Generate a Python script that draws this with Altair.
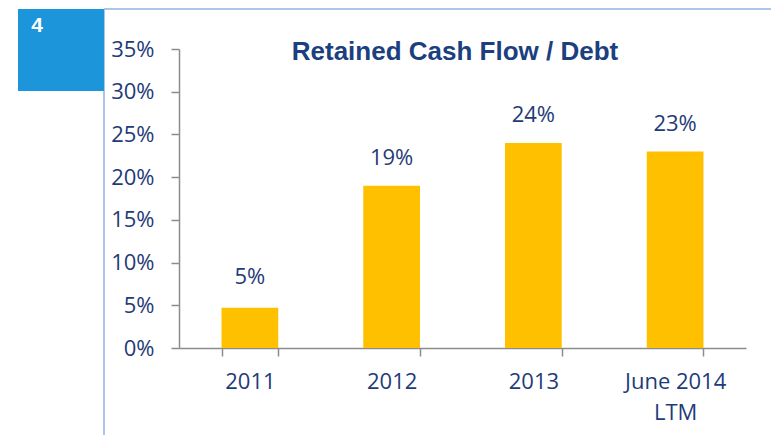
import altair as alt
import pandas as pd

categories = ["2011", "2012", "2013", "June 2014\nLTM"]
values = [4.7, 19.0, 24.0, 23.0]
labels = ["5%", "19%", "24%", "23%"]
y_ticks = [0, 5, 10, 15, 20, 25, 30, 35]
title_text = "Retained Cash Flow / Debt"
badge_text = "4"

TEXT = "#1F3B78"
FONT = "Open Sans"

df = pd.DataFrame({"cat": categories, "val": values, "lab": labels})
one = pd.DataFrame({"k": [0]})

x_enc = alt.X(
    "cat:N",
    sort=categories,
    title=None,
    scale=alt.Scale(paddingInner=0.6, paddingOuter=0.3),
    axis=alt.Axis(
        labelAngle=0,
        labelExpr="split(datum.label, '\\n')",
        labelLineHeight=31,
        labelFontSize=22,
        labelFont=FONT,
        labelColor=TEXT,
        labelPadding=15,
        tickBand="extent",
        tickSize=8,
        tickColor="#8C8C8C",
        tickWidth=1.5,
        domainColor="#8C8C8C",
        domainWidth=1.5,
        grid=False,
    ),
)
y_enc = alt.Y(
    "val:Q",
    title=None,
    scale=alt.Scale(domain=[0, 35], nice=False),
    axis=alt.Axis(
        values=y_ticks,
        labelExpr="datum.value + '%'",
        labelFontSize=22,
        labelFont=FONT,
        labelColor=TEXT,
        labelPadding=17,
        tickSize=8,
        tickColor="#8C8C8C",
        tickWidth=1.5,
        domainColor="#8C8C8C",
        domainWidth=1.5,
        grid=False,
    ),
)

bars = alt.Chart(df).mark_bar(color="#FFC000").encode(x=x_enc, y=y_enc)
bar_text = alt.Chart(df).transform_calculate(
    labval="parseFloat(datum.lab)"
).mark_text(
    baseline="alphabetic", dy=-21, fontSize=22, font=FONT, color=TEXT
).encode(x=alt.X("cat:N", sort=categories), y=alt.Y("labval:Q"), text="lab:N")

frame_color = "#8EB4E3"
frame_left = alt.Chart(one).mark_rule(color=frame_color, strokeWidth=1.5).encode(
    x=alt.value(-75), y=alt.value(-40), y2=alt.value(400)
)
frame_top = alt.Chart(one).mark_rule(color=frame_color, strokeWidth=1.5).encode(
    x=alt.value(-75), x2=alt.value(596), y=alt.value(-40)
)
frame_right = alt.Chart(one).mark_rule(color=frame_color, strokeWidth=1.5).encode(
    x=alt.value(596), y=alt.value(-40), y2=alt.value(400)
)
badge = alt.Chart(one).mark_rect(color="#1D95DB").encode(
    x=alt.value(-161), x2=alt.value(-75), y=alt.value(-40), y2=alt.value(42)
)
badge_label = alt.Chart(one).mark_text(
    text=badge_text, color="white", fontSize=21, fontWeight="bold",
    font="Liberation Sans", baseline="middle", align="center"
).encode(x=alt.value(-142), y=alt.value(-23))
title = alt.Chart(one).mark_text(
    text=title_text, color="#1B3F7F", fontSize=26, fontWeight="bold",
    font="Liberation Sans", baseline="alphabetic", align="center"
).encode(x=alt.value(276), y=alt.value(11))

chart = alt.layer(
    frame_left, frame_top, frame_right, badge, badge_label, bars, bar_text, title
).properties(
    width=567,
    height=299,
    autosize=alt.AutoSizeParams(type="none"),
    padding={"left": 171, "top": 41, "right": 25, "bottom": 87},
).configure_view(stroke=None)

chart.save("out.html", embed_options={"renderer": "svg", "actions": False})
